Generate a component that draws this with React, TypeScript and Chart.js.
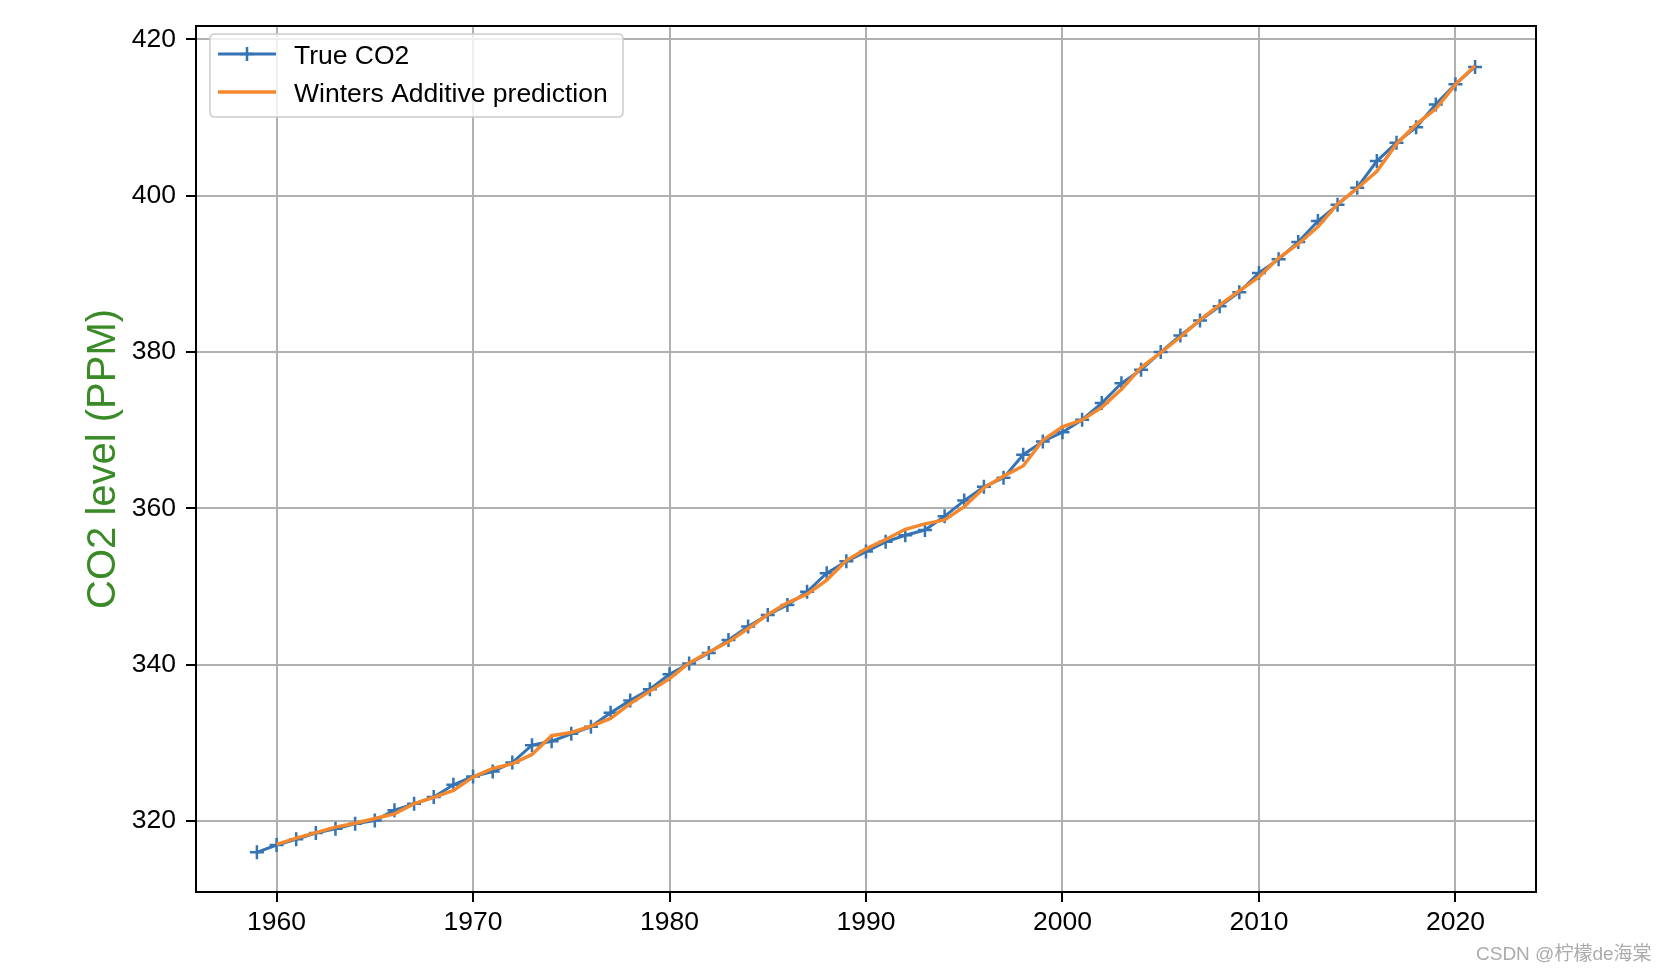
import React, { useEffect, useRef } from "react";
import { Chart, registerables } from "chart.js";

Chart.register(...registerables);

const years = [
  1959, 1960, 1961, 1962, 1963, 1964, 1965, 1966, 1967, 1968, 1969,
  1970, 1971, 1972, 1973, 1974, 1975, 1976, 1977, 1978, 1979,
  1980, 1981, 1982, 1983, 1984, 1985, 1986, 1987, 1988, 1989,
  1990, 1991, 1992, 1993, 1994, 1995, 1996, 1997, 1998, 1999,
  2000, 2001, 2002, 2003, 2004, 2005, 2006, 2007, 2008, 2009,
  2010, 2011, 2012, 2013, 2014, 2015, 2016, 2017, 2018, 2019,
  2020, 2021,
];

const trueCO2 = [
  315.98, 316.91, 317.64, 318.45, 318.99, 319.62, 320.04, 321.37, 322.18, 323.05, 324.62,
  325.68, 326.32, 327.46, 329.68, 330.19, 331.13, 332.03, 333.84, 335.41, 336.84,
  338.76, 340.12, 341.48, 343.15, 344.87, 346.35, 347.61, 349.31, 351.69, 353.2,
  354.45, 355.7, 356.54, 357.21, 358.96, 360.97, 362.74, 363.88, 366.84, 368.54,
  369.71, 371.32, 373.45, 375.98, 377.7, 379.98, 382.09, 384.02, 385.83, 387.64,
  390.1, 391.85, 394.06, 396.74, 398.81, 401.01, 404.41, 406.76, 408.72, 411.66,
  414.24, 416.45,
];

const predCO2: (number | null)[] = [
  null, 317.0, 317.8, 318.5, 319.2, 319.7, 320.3, 320.9, 322.2, 323.0, 323.9,
  325.6, 326.7, 327.3, 328.5, 330.9, 331.3, 332.1, 333.1, 335.0, 336.6,
  338.2, 340.2, 341.6, 342.9, 344.6, 346.4, 347.9, 349.0, 350.8, 353.3,
  354.8, 356.0, 357.3, 358.0, 358.5, 360.2, 362.6, 364.1, 365.4, 368.7,
  370.4, 371.3, 372.9, 375.2, 378.0, 379.9, 381.9, 384.1, 386.0, 387.8,
  389.6, 392.0, 393.8, 396.0, 398.9, 400.9, 403.1, 406.6, 409.1, 411.1,
  414.2, 416.6,
];

const xTickValues = [1960, 1970, 1980, 1990, 2000, 2010, 2020];
const yTickValues = [320, 340, 360, 380, 400, 420];
const seriesLabels = ["True CO2", "Winters Additive prediction"];
const yAxisTitle = "CO2 level (PPM)";
const watermark = "CSDN @柠檬de海棠";

const BLUE = "#3574b4";
const ORANGE = "#f5882d";
const FONT = '"Liberation Sans", Arial, sans-serif';
const FS = 26.5;

const framePlugin = {
  id: "frameAndLegend",
  afterDraw(chart: any) {
    const { ctx, chartArea } = chart;
    const { left, right, top, bottom } = chartArea;
    ctx.save();
    ctx.strokeStyle = "#000";
    ctx.lineWidth = 2;
    ctx.beginPath();
    ctx.moveTo(left, top);
    ctx.lineTo(right, top);
    ctx.lineTo(right, bottom);
    ctx.stroke();

    const bx = 210, by = 34, bw = 413, bh = 83, r = 5;
    ctx.beginPath();
    ctx.moveTo(bx + r, by);
    ctx.lineTo(bx + bw - r, by);
    ctx.quadraticCurveTo(bx + bw, by, bx + bw, by + r);
    ctx.lineTo(bx + bw, by + bh - r);
    ctx.quadraticCurveTo(bx + bw, by + bh, bx + bw - r, by + bh);
    ctx.lineTo(bx + r, by + bh);
    ctx.quadraticCurveTo(bx, by + bh, bx, by + bh - r);
    ctx.lineTo(bx, by + r);
    ctx.quadraticCurveTo(bx, by, bx + r, by);
    ctx.closePath();
    ctx.fillStyle = "rgba(255,255,255,0.8)";
    ctx.fill();
    ctx.strokeStyle = "#cccccc";
    ctx.lineWidth = 1.5;
    ctx.stroke();

    const ds = chart.data.datasets;
    const rows = [
      { y: 54, base: 64, ds: ds[1] },
      { y: 92, base: 102, ds: ds[0] },
    ];
    rows.forEach((row) => {
      ctx.strokeStyle = row.ds.borderColor;
      ctx.lineWidth = row.ds.borderWidth;
      ctx.beginPath();
      ctx.moveTo(218, row.y);
      ctx.lineTo(276, row.y);
      ctx.stroke();
      if (row.ds.pointRadius > 0) {
        const rr = row.ds.pointRadius;
        ctx.lineWidth = row.ds.pointBorderWidth;
        ctx.beginPath();
        ctx.moveTo(247 - rr, row.y);
        ctx.lineTo(247 + rr, row.y);
        ctx.moveTo(247, row.y - rr);
        ctx.lineTo(247, row.y + rr);
        ctx.stroke();
      }
      ctx.fillStyle = "#000";
      ctx.font = `${FS}px ${FONT}`;
      ctx.textBaseline = "alphabetic";
      ctx.textAlign = "left";
      ctx.fillText(row.ds.label, 294, row.base);
    });
    ctx.restore();
  },
};

export default function App() {
  const canvasRef = useRef<HTMLCanvasElement | null>(null);

  useEffect(() => {
    document.body.style.margin = "0";
    const canvas = canvasRef.current;
    if (!canvas) return;
    const trueData = years.map((x, i) => ({ x, y: trueCO2[i] }));
    const predData = years
      .map((x, i) => ({ x, y: predCO2[i] }))
      .filter((p) => p.y !== null);

    const chart = new Chart(canvas, {
      type: "line",
      data: {
        datasets: [
          {
            label: seriesLabels[1],
            data: predData as any,
            borderColor: ORANGE,
            backgroundColor: ORANGE,
            borderWidth: 3.5,
            pointRadius: 0,
            pointHoverRadius: 0,
            tension: 0,
            order: 0,
          },
          {
            label: seriesLabels[0],
            data: trueData,
            borderColor: BLUE,
            backgroundColor: BLUE,
            borderWidth: 3,
            pointStyle: "cross",
            pointRadius: 7,
            pointBorderWidth: 2.5,
            pointBorderColor: BLUE,
            pointHoverRadius: 7,
            tension: 0,
            order: 1,
          },
        ],
      },
      options: {
        animation: false,
        responsive: false,
        devicePixelRatio: 1,
        layout: { padding: { top: 21, right: 128, left: 0, bottom: 0 } },
        plugins: {
          legend: { display: false },
          tooltip: { enabled: false },
        },
        scales: {
          x: {
            type: "linear",
            min: 1955.9,
            max: 2024.1,
            afterBuildTicks: (scale: any) => {
              scale.ticks = xTickValues.map((v) => ({ value: v }));
            },
            afterFit: (scale: any) => {
              scale.height = 82;
            },
            ticks: {
              color: "#000",
              font: { family: FONT, size: FS },
              padding: 5,
              maxRotation: 0,
              autoSkip: false,
              callback: (v: any) => String(v),
            },
            grid: {
              color: "#b0b0b0",
              lineWidth: 2,
              tickColor: "#000",
              tickLength: 10,
              tickWidth: 2,
            },
            border: { display: true, color: "#000", width: 2 },
          },
          y: {
            type: "linear",
            min: 310.9,
            max: 421.7,
            afterBuildTicks: (scale: any) => {
              scale.ticks = yTickValues.map((v) => ({ value: v }));
            },
            afterFit: (scale: any) => {
              scale.width = 196;
            },
            ticks: {
              color: "#000",
              font: { family: FONT, size: FS },
              padding: 10,
              autoSkip: false,
              callback: (v: any) => String(v),
            },
            grid: {
              color: "#b0b0b0",
              lineWidth: 2,
              tickColor: "#000",
              tickLength: 10,
              tickWidth: 2,
            },
            border: { display: true, color: "#000", width: 2 },
            title: {
              display: true,
              text: yAxisTitle,
              color: "#3a8a28",
              font: { family: FONT, size: 40 },
              padding: { top: 80, bottom: 0 },
            },
          },
        },
      },
      plugins: [framePlugin],
    });
    return () => chart.destroy();
  }, []);

  return (
    <div style={{ position: "fixed", left: 0, top: 0, width: 1664, height: 974, background: "#fff" }}>
      <canvas ref={canvasRef} width={1664} height={974} style={{ width: 1664, height: 974, display: "block" }} />
      <div
        style={{
          position: "absolute",
          left: 1476,
          top: 943,
          fontFamily: '"Liberation Sans", "Noto Sans CJK SC", sans-serif',
          fontSize: 19,
          color: "#ababab",
          whiteSpace: "nowrap",
          lineHeight: "22px",
        }}
      >
        {watermark}
      </div>
    </div>
  );
}
